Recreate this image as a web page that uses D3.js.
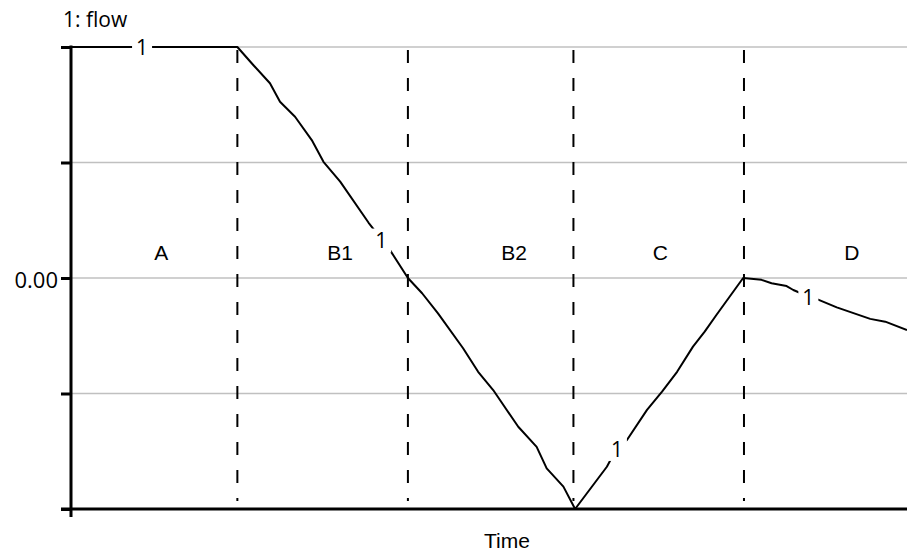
<!DOCTYPE html>
<html>
<head>
<meta charset="utf-8">
<script src="https://cdn.jsdelivr.net/npm/d3@7"></script>
<style>
  html, body { margin: 0; padding: 0; background: #fff; }
  svg { display: block; }
</style>
</head>
<body>
<svg id="chart" width="907" height="555"></svg>
<script>
// ---- data ----
const timeVals = [0, 19.9, 21.8, 23.8, 25.0, 26.8, 28.8, 30.2, 32.2, 35.6, 37.2, 38.1, 40.3,
  42.0, 43.9, 46.9, 48.7, 50.5, 53.5, 55.7, 56.9, 58.9, 60.3,
  64.1, 65.3, 66.5, 68.9, 70.7, 72.5, 74.4, 75.8, 77.2, 80.4,
  82.6, 83.8, 85.6, 86.4, 88.3, 88.8, 91.6, 95.6, 97.4, 100];
const flowVals = [1, 1, 0.922, 0.843, 0.763, 0.698, 0.597, 0.503, 0.417, 0.239, 0.165, 0.124, 0.0,
  -0.066, -0.153, -0.304, -0.406, -0.485, -0.644, -0.731, -0.824, -0.903, -1.0,
  -0.817, -0.736, -0.701, -0.571, -0.492, -0.406, -0.297, -0.232, -0.160, 0.0,
  -0.008, -0.023, -0.035, -0.052, -0.081, -0.085, -0.127, -0.177, -0.189, -0.225];
const dividerTimes = [19.9, 40.3, 60.1, 80.5];
const phaseNames = ["A", "B1", "B2", "C", "D"];
const phaseTimes = [10.8, 32.2, 53.0, 70.5, 93.4];
const phaseLabelFlow = 0.08;
const yTickValues = [1, 0.5, 0, -0.5, -1];
const yTickLabels = ["", "", "0.00", "", ""];
const seriesLabelTimes = [8.5, 37.1, 65.3, 88.2];
const seriesLabelFlows = [1, 0.162, -0.74, -0.082];
const seriesLabelText = "1";
const yAxisTitle = "1: flow";
const xAxisTitle = "Time";

// ---- layout ----
const svg = d3.select("#chart");
const mLeft = 71, mRight = 907, mTop = 47, mBottom = 509;
const x = d3.scaleLinear().domain([0, 100]).range([mLeft, mRight]);
const y = d3.scaleLinear().domain([-1, 1]).range([mBottom, mTop]);

// gridlines
svg.append("g").selectAll("line").data(yTickValues.filter(v => v > -1)).join("line")
  .attr("x1", mLeft).attr("x2", mRight)
  .attr("y1", d => y(d)).attr("y2", d => y(d))
  .attr("stroke", "#c0c0c0").attr("stroke-width", 1.5);

// dashed dividers
svg.append("g").selectAll("line").data(dividerTimes).join("line")
  .attr("x1", d => x(d)).attr("x2", d => x(d))
  .attr("y1", mTop + 3).attr("y2", mBottom - 8)
  .attr("stroke", "#000").attr("stroke-width", 2)
  .attr("stroke-dasharray", "13,15");

// phase labels
svg.append("g").selectAll("text").data(phaseNames).join("text")
  .attr("x", (d, i) => x(phaseTimes[i]))
  .attr("y", y(phaseLabelFlow))
  .attr("text-anchor", "middle")
  .attr("font-family", "Liberation Sans, Arial, sans-serif")
  .attr("font-size", 21)
  .attr("fill", "#000")
  .text(d => d);

// series line
const pts = timeVals.map((t, i) => [t, flowVals[i]]);
svg.append("path")
  .datum(pts)
  .attr("fill", "none")
  .attr("stroke", "#000")
  .attr("stroke-width", 2)
  .attr("stroke-linejoin", "round")
  .attr("d", d3.line().x(d => x(d[0])).y(d => y(d[1])));

// series labels with gap
const lab = svg.append("g").selectAll("g").data(seriesLabelTimes).join("g")
  .attr("transform", (d, i) => `translate(${x(d)},${y(seriesLabelFlows[i])})`);
lab.append("rect")
  .attr("x", -10).attr("y", -12).attr("width", 20).attr("height", 24)
  .attr("fill", "#fff");
lab.append("text")
  .attr("text-anchor", "middle")
  .attr("dy", "0.36em")
  .attr("font-family", "Open Sans, sans-serif")
  .attr("font-size", 21)
  .attr("fill", "#000")
  .text(seriesLabelText);

// y axis
const yAxis = d3.axisLeft(y).tickValues(yTickValues).tickSize(10).tickSizeOuter(0)
  .tickFormat((d, i) => yTickLabels[i]);
const gy = svg.append("g").attr("transform", `translate(${mLeft},0)`).call(yAxis);
gy.select(".domain").remove();
gy.selectAll(".tick line").attr("stroke", "#000").attr("stroke-width", 3);
gy.selectAll(".tick text")
  .attr("x", -13)
  .attr("dy", "0.45em")
  .attr("font-family", "Open Sans, sans-serif")
  .attr("font-size", 22)
  .attr("fill", "#000");

// axis lines
svg.append("line")
  .attr("x1", mLeft).attr("x2", mLeft)
  .attr("y1", mTop - 1.5).attr("y2", mBottom + 8)
  .attr("stroke", "#000").attr("stroke-width", 3);
svg.append("line")
  .attr("x1", mLeft - 10).attr("x2", mRight)
  .attr("y1", mBottom).attr("y2", mBottom)
  .attr("stroke", "#000").attr("stroke-width", 3);

// titles
svg.append("text")
  .attr("x", mLeft - 8).attr("y", 27)
  .attr("font-family", "Open Sans, sans-serif")
  .attr("font-size", 21)
  .attr("fill", "#000")
  .text(yAxisTitle);
svg.append("text")
  .attr("x", 507).attr("y", 548)
  .attr("text-anchor", "middle")
  .attr("font-family", "Liberation Sans, Arial, sans-serif")
  .attr("font-size", 21)
  .attr("fill", "#000")
  .text(xAxisTitle);
</script>
</body>
</html>
